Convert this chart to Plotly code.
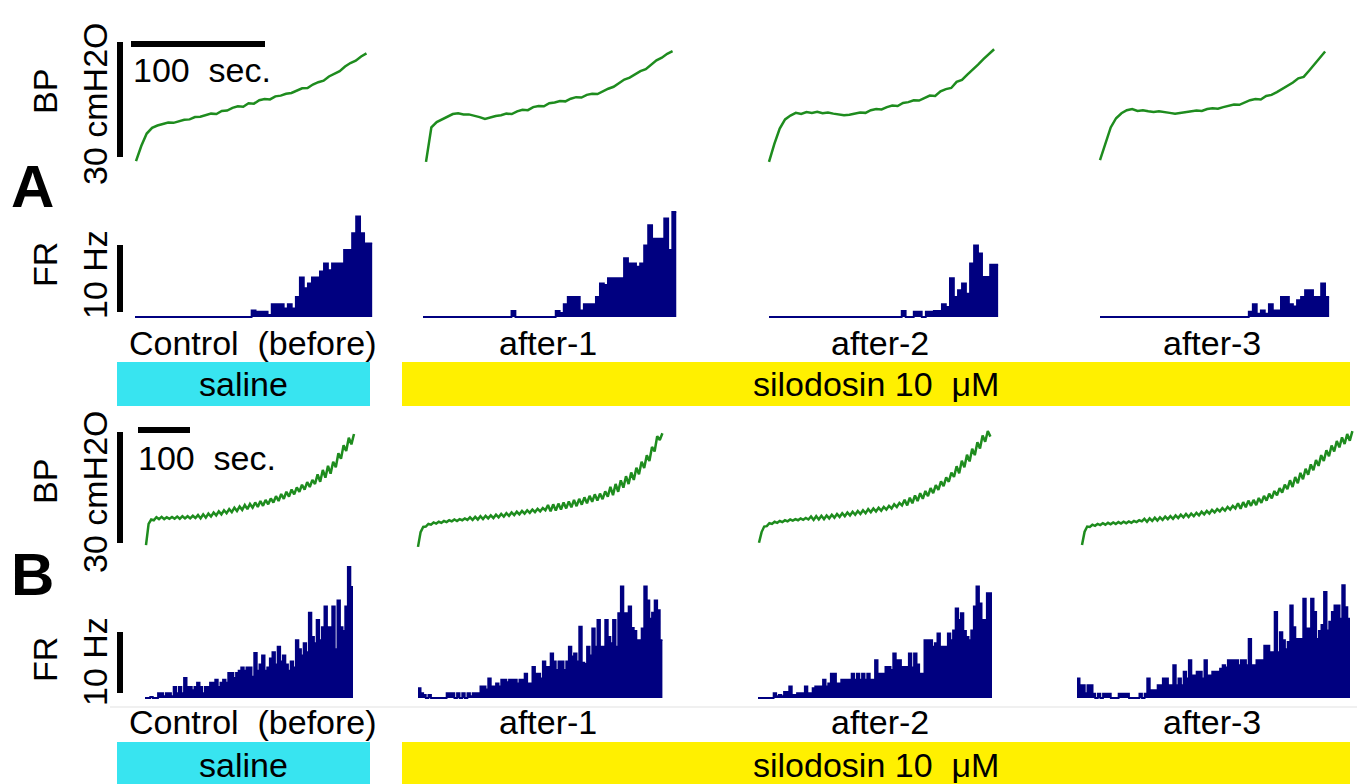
import plotly.graph_objects as go

W, H = 1357, 784

# ---------------- data ----------------
conditions = ["Control  (before)", "after-1", "after-2", "after-3"]
treatments = ["saline", "silodosin 10  μM"]
panel_labels = ["A", "B"]

SCALE_TIME_S = 100      # sec
SCALE_BP = 30           # cmH2O
SCALE_FR = 10           # Hz

# Panel A - bladder pressure (cmH2O above start), sampled every 4 s
A_BP_DT = 4
A_bp_control = [1.0, 5.0, 8.2, 9.7, 10.3, 10.7, 11.1, 11.0, 11.5, 11.8, 11.9, 12.5, 12.6, 13.0, 13.4,
                13.3, 14.1, 14.2, 14.9, 15.3, 15.2, 16.1, 16.0, 16.9, 17.2, 17.1, 17.9, 18.1, 18.6,
                18.8, 19.4, 20.0, 20.1, 21.0, 21.6, 22.0, 23.1, 23.8, 24.5, 25.7, 26.6, 27.2, 28.3, 29.1]
A_bp_after1 = [0.8, 9.8, 11.2, 11.9, 12.4, 13.3, 13.5, 13.2, 13.2, 12.9, 12.5, 12.0, 12.5, 12.8, 13.0,
               13.4, 13.3, 14.0, 14.4, 14.3, 15.1, 15.4, 15.3, 16.1, 16.3, 16.7, 16.6, 17.3, 17.7,
               17.6, 18.3, 18.6, 18.5, 19.3, 19.9, 20.4, 21.4, 22.3, 22.8, 23.7, 24.5, 25.0, 26.2,
               27.3, 28.0, 29.0, 29.7]
A_bp_after2 = [0.8, 5.5, 9.5, 11.9, 12.9, 13.6, 13.3, 13.8, 13.6, 13.9, 13.5, 13.7, 13.4, 13.2, 13.0,
               13.1, 13.4, 13.7, 13.6, 14.3, 14.6, 14.5, 15.1, 15.5, 15.4, 16.2, 16.4, 16.9, 16.8,
               17.5, 18.1, 18.0, 19.2, 19.8, 20.1, 21.7, 22.2, 23.6, 24.8, 26.2, 27.6, 29.0, 30.2]
A_bp_after3 = [1.3, 5.5, 9.8, 12.2, 13.5, 14.3, 14.6, 14.1, 14.3, 14.0, 13.8, 14.0, 13.7, 13.6, 13.4,
               13.6, 13.8, 14.0, 14.2, 14.1, 14.6, 14.8, 14.7, 15.1, 15.5, 15.8, 15.7, 16.4, 16.9,
               17.2, 17.1, 18.0, 18.3, 19.0, 19.8, 20.8, 21.5, 22.6, 23.0, 24.6, 26.3, 28.0, 29.6]

# Panel A - firing rate (Hz), 3 s bins
A_FR_BIN = 3
A_fr_control = [0, 0, 0, 0, 0, 0, 0, 0, 0, 0,
                0, 0, 0, 0, 0, 0, 0, 0, 0, 0,
                0, 0, 0, 0, 0, 0, 0, 0, 0,
                1.0, 0.8, 0.8, 0.8, 0.3, 1.9, 1.9, 1.9, 1.3, 1.9, 1.3, 3.0, 5.9, 4.3, 5.0,
                5.9, 5.9, 6.8, 8.0, 7.0, 8.0, 8.0, 8.0, 10.0, 10.0, 12.5, 15.0, 12.5, 11.0, 11.0]
A_fr_after1 = [0, 0, 0, 0, 0, 0, 0, 0, 0, 0,
               0, 0, 0, 0, 0, 0, 0, 0, 0, 0,
               0, 0, 0.9, 0, 0, 0, 0, 0, 0, 0,
               0, 0, 0,
               0.9, 0.6, 1.9, 3.0, 3.0, 3.0, 1.0, 1.9, 1.9, 1.9, 3.0, 5.0, 4.8, 5.8, 5.8,
               5.8, 5.8, 8.8, 8.0, 8.0, 7.5, 8.0, 10.7, 13.7, 11.7, 11.7, 11.7, 14.7, 10.0, 15.7]
A_fr_after2 = [0, 0, 0, 0, 0, 0, 0, 0, 0, 0,
               0, 0, 0, 0, 0, 0, 0, 0, 0, 0,
               0, 0, 0, 0, 0, 0, 0, 0, 0, 0,
               0, 0, 0,
               0.9, 0, 0, 0.8, 0.8, 0, 0.8, 0.8, 0.9, 0.9, 1.9, 1.5, 5.8, 3.0, 4.0, 5.0,
               3.5, 8.0, 10.7, 9.5, 6.0, 6.0, 7.8, 7.8]
A_fr_after3 = [0, 0, 0, 0, 0, 0, 0, 0, 0, 0,
               0, 0, 0, 0, 0, 0, 0, 0, 0, 0,
               0, 0, 0, 0, 0, 0, 0, 0, 0, 0,
               0, 0, 0, 0, 0, 0, 0,
               0.8, 1.9, 0.5, 1.0, 0.5, 1.9, 1.0, 1.0, 3.0, 3.0, 1.9, 1.6, 2.5, 3.0, 4.0,
               4.0, 3.0, 3.0, 5.0, 3.0]

# Panel B - bladder pressure (cmH2O), sampled every 5 s
B_BP_DT = 5
B_bp_control = [0.8, 6.5, 7.7, 7.5, 8.3, 7.8, 8.4, 7.8, 8.3, 7.9,
                8.4, 7.9, 8.5, 7.9, 8.6, 8.0, 8.6, 8.0, 8.7, 8.1,
                8.9, 8.0, 9.1, 8.2, 9.3, 8.5, 9.6, 8.8, 9.9, 9.1,
                10.2, 9.4, 10.5, 9.7, 10.9, 10.0, 11.2, 10.3, 11.6, 10.5,
                11.9, 10.9, 12.3, 11.1, 12.7, 11.4, 13.0, 11.8, 13.4, 12.3,
                14.0, 12.7, 14.6, 13.3, 15.2, 13.9, 15.8, 14.5, 16.4, 15.2,
                17.1, 15.8, 17.8, 16.5, 18.4, 17.3, 19.9, 17.9, 21.1, 19.0,
                22.2, 20.1, 23.3, 21.8, 25.6, 24.1, 27.8, 26.2, 29.8, 28.0,
                30.8]
B_bp_after1 = [0.3, 4.3, 5.7, 5.8, 6.5, 6.3, 6.9, 6.6, 7.1, 6.8,
               7.3, 7.0, 7.5, 7.2, 7.7, 7.3, 7.8, 7.5, 8.0, 7.6,
               8.3, 7.6, 8.4, 7.7, 8.6, 7.8, 8.7, 8.0, 8.8, 8.1,
               9.0, 8.3, 9.2, 8.5, 9.4, 8.7, 9.6, 8.9, 9.8, 9.1,
               10.0, 9.3, 10.2, 9.5, 10.4, 9.7, 10.6, 9.9, 10.8, 10.2,
               11.6, 9.9, 11.8, 10.1, 12.0, 10.4, 12.3, 10.7, 12.6, 11.0,
               13.0, 11.3, 13.3, 11.7, 13.7, 12.1, 14.1, 12.5, 14.5, 12.8,
               14.7, 13.2, 15.3, 13.9, 16.5, 14.3, 17.3, 15.2, 18.3, 16.3,
               19.4, 17.3, 20.4, 18.4, 21.7, 19.9, 23.3, 21.6, 25.1, 23.5,
               27.3, 26.1, 30.2, 29.2, 31.0]
B_bp_after2 = [1.4, 4.3, 5.8, 5.9, 6.7, 6.5, 7.1, 6.8, 7.3, 7.0,
               7.5, 7.2, 7.7, 7.4, 7.8, 7.5, 8.0, 7.6, 8.1, 7.7,
               8.5, 7.6, 8.6, 7.7, 8.7, 7.8, 8.8, 8.0, 9.0, 8.2,
               9.2, 8.4, 9.4, 8.6, 9.6, 8.8, 9.8, 9.0, 10.0, 9.2,
               10.2, 9.4, 10.5, 9.7, 10.7, 9.9, 10.9, 10.1, 11.1, 10.4,
               11.4, 10.7, 11.8, 11.1, 12.2, 11.5, 13.0, 11.5, 13.6, 12.1,
               14.2, 12.7, 14.8, 13.3, 15.4, 14.0, 16.2, 14.8, 17.0, 15.7,
               18.0, 16.7, 19.1, 17.9, 20.4, 19.2, 22.1, 20.2, 23.6, 21.8,
               25.2, 23.4, 26.8, 25.1, 28.6, 26.9, 30.4, 28.7, 31.6, 30.1]
B_bp_after3 = [0.8, 4.4, 5.8, 5.7, 6.3, 6.0, 6.5, 6.2, 6.7, 6.3,
               6.8, 6.4, 6.9, 6.5, 7.0, 6.6, 7.1, 6.7, 7.2, 6.8,
               7.3, 7.0, 7.5, 7.2, 7.9, 7.1, 8.0, 7.3, 8.2, 7.4,
               8.3, 7.6, 8.5, 7.8, 8.6, 7.9, 8.8, 8.1, 9.0, 8.3,
               9.2, 8.4, 9.3, 8.6, 9.5, 8.8, 9.8, 9.1, 10.0, 9.3,
               10.3, 9.6, 10.5, 9.9, 10.8, 10.1, 11.1, 10.4, 11.4, 10.7,
               12.1, 10.6, 12.4, 11.0, 12.8, 11.4, 13.0, 11.6, 13.5, 12.2,
               14.1, 12.8, 14.7, 13.4, 15.4, 14.2, 16.2, 15.0, 17.1, 15.9,
               18.3, 16.5, 19.2, 17.5, 20.3, 18.6, 21.4, 19.8, 22.6, 21.0,
               23.8, 22.2, 25.1, 23.5, 26.4, 24.8, 27.7, 26.1, 28.9, 27.2,
               29.9, 28.1, 30.8, 29.0, 31.6]

# Panel B - firing rate (Hz), 5 s bins
B_FR_BIN = 5
B_fr_control = [0, 0, 0.2, 0, 0, 0.8, 0.8, 0.3, 0.8, 0.8,
                0.3, 1.8, 0.8, 1.8, 0.8, 3.3, 1.8, 1.8, 1.3, 1.8,
                2.5, 1.8, 0.8, 1.8, 1.8, 2.5, 2.5, 3.0, 1.8, 2.5,
                3.0, 2.5, 4.1, 4.1, 3.3, 4.1, 4.5, 5.0, 4.5, 5.0,
                5.0, 3.5, 7.4, 4.5, 5.5, 7.0, 4.5, 5.0, 6.5, 7.5,
                5.5, 8.4, 6.0, 7.0, 5.5, 4.5, 6.0, 5.0, 9.5, 8.0,
                7.0, 9.0, 7.5, 14.0, 10.0, 9.0, 12.8, 9.5, 11.6, 15.0,
                11.6, 11.6, 15.0, 8.0, 16.0, 11.6, 11.0, 15.0, 21.5, 18.2]
B_fr_after1 = [1.6, 0.8, 0.5, 0, 0.5, 0, 0, 0, 0, 0,
               0, 0.8, 0.8, 0.8, 0, 0.8, 0, 0.8, 0, 0.8,
               0.3, 0.8, 0.8, 0.8, 1.9, 1.9, 1.4, 3.2, 1.9, 1.9,
               2.4, 1.9, 3.0, 3.0, 2.6, 3.0, 3.0, 3.0, 2.4, 3.0,
               3.0, 4.0, 2.4, 2.4, 5.1, 4.0, 4.0, 3.2, 6.0, 5.1,
               5.1, 7.3, 6.0, 4.6, 6.0, 6.0, 4.6, 6.0, 8.4, 6.8,
               7.3, 6.0, 11.7, 5.8, 5.6, 8.4, 7.0, 11.4, 8.4, 12.8,
               8.4, 8.4, 12.8, 10.0, 9.0, 12.8, 8.4, 13.9, 18.3, 13.9,
               13.9, 15.0, 11.5, 11.0, 9.5, 9.5, 11.4, 18.3, 16.0, 13.0,
               14.0, 16.0, 14.4, 9.5]
B_fr_after2 = [0, 0, 0, 0, 0, 0, 0.8, 0.3, 0.5, 0.3,
               1.0, 1.0, 1.9, 0.5, 0.5, 0.8, 0.8, 0.8, 1.9, 0.8,
               0.8, 1.6, 1.9, 1.9, 1.9, 3.0, 1.9, 2.4, 4.0, 4.0,
               2.4, 2.4, 3.0, 3.0, 3.0, 3.0, 4.0, 3.0, 4.0, 3.0,
               4.0, 3.0, 4.0, 3.0, 3.0, 6.2, 4.0, 4.0, 4.0, 5.1,
               5.1, 4.6, 7.3, 6.2, 6.2, 5.1, 5.1, 5.1, 7.3, 5.0,
               7.3, 5.5, 4.0, 4.0, 9.5, 9.5, 9.5, 8.4, 9.0, 10.6,
               8.4, 8.4, 8.4, 10.6, 9.5, 11.1, 14.7, 12.8, 13.9, 11.0,
               10.0, 9.5, 11.1, 15.0, 18.3, 15.5, 12.8, 12.8, 17.2, 17.2]
B_fr_after3 = [3.2, 2.1, 2.1, 0.8, 2.1, 2.1, 0.7, 0, 0.7, 0,
               0.7, 0.7, 0.7, 0, 0, 0, 0.7, 0.7, 0.7, 0.7,
               0, 0, 0, 0, 0.7, 0, 0.7, 3.2, 1.3, 1.3,
               1.3, 2.1, 2.1, 3.2, 3.2, 2.1, 2.1, 5.4, 2.1, 3.2,
               2.1, 4.3, 3.2, 6.2, 3.7, 3.7, 4.3, 4.3, 3.2, 6.2,
               3.7, 3.7, 4.3, 4.3, 4.3, 4.8, 5.4, 5.0, 6.2, 6.2,
               6.2, 6.2, 5.4, 6.2, 6.2, 5.4, 9.7, 5.4, 5.4, 6.2,
               6.2, 6.2, 8.6, 8.6, 7.5, 7.5, 14.1, 7.5, 10.8, 9.5,
               8.0, 9.2, 15.2, 11.6, 9.7, 9.7, 9.7, 16.3, 11.4, 11.4,
               16.3, 14.1, 9.7, 11.0, 12.0, 17.4, 11.1, 12.5, 14.1, 15.2,
               15.2, 13.0, 18.5, 14.9, 13.0]

# ---------------- layout geometry (pixels) ----------------
GREEN = "rgb(30,140,30)"
NAVY = "rgb(0,0,128)"
CYAN = "rgb(56,228,240)"
YELLOW = "rgb(255,240,0)"
FONT = "Liberation Sans, Arial, sans-serif"

rows = {
    "A_BP": dict(data=[A_bp_control, A_bp_after1, A_bp_after2, A_bp_after3], dt=A_BP_DT, kind="bp",
                 x0=[136, 426, 769, 1100], pps=1.34, top=30, bottom=170, y0=165, ppu=115 / 30),
    "A_FR": dict(data=[A_fr_control, A_fr_after1, A_fr_after2, A_fr_after3], dt=A_FR_BIN, kind="fr",
                 x0=[135, 423, 769, 1100], pps=1.34, top=195, bottom=322, y0=317, ppu=6.7),
    "B_BP": dict(data=[B_bp_control, B_bp_after1, B_bp_after2, B_bp_after3], dt=B_BP_DT, kind="bp",
                 x0=[146, 418, 759, 1082], pps=0.52, top=420, bottom=552, y0=548, ppu=3.7),
    "B_FR": dict(data=[B_fr_control, B_fr_after1, B_fr_after2, B_fr_after3], dt=B_FR_BIN, kind="fr",
                 x0=[145, 418, 758, 1077], pps=0.52, top=555, bottom=703, y0=698, ppu=6.1),
}

fig = go.Figure()
layout_axes = {}
axis_of = {}
n = 0
for key, r in rows.items():
    for c, vals in enumerate(r["data"]):
        n += 1
        left = max(0, r["x0"][c] - 40)
        right = min(W, r["x0"][c] + 300)
        xa = dict(domain=[left / W, right / W],
                  range=[(left - r["x0"][c]) / r["pps"], (right - r["x0"][c]) / r["pps"]],
                  visible=False, fixedrange=True)
        ya = dict(domain=[1 - r["bottom"] / H, 1 - r["top"] / H],
                  range=[(r["y0"] - r["bottom"]) / r["ppu"], (r["y0"] - r["top"]) / r["ppu"]],
                  visible=False, fixedrange=True)
        sfx = "" if n == 1 else str(n)
        layout_axes["xaxis" + sfx] = xa
        layout_axes["yaxis" + sfx] = ya
        axis_of[(key, c)] = ("x" + sfx, "y" + sfx)
        if r["kind"] == "bp":
            t = [i * r["dt"] for i in range(len(vals))]
            fig.add_trace(go.Scatter(x=t, y=vals, mode="lines", xaxis="x" + sfx, yaxis="y" + sfx,
                                     line=dict(color=GREEN, width=2.5), hoverinfo="skip",
                                     showlegend=False))
        else:
            edges = [i * r["dt"] for i in range(len(vals) + 1)]
            fig.add_trace(go.Scatter(x=edges, y=list(vals) + [vals[-1]], mode="lines",
                                     line_shape="hv", fill="tozeroy", fillcolor=NAVY,
                                     xaxis="x" + sfx, yaxis="y" + sfx,
                                     line=dict(color=NAVY, width=1.8), hoverinfo="skip",
                                     showlegend=False))

fig.update_layout(**layout_axes)

shapes = []


def bar_shapes(bp_key, fr_key, vbar_x, bp_bottom, tbar_y, tbar_left, fr_bottom):
    rb = rows[bp_key]
    xr, yr = axis_of[(bp_key, 0)]
    xv = (vbar_x - rb["x0"][0]) / rb["pps"]
    yb = (rb["y0"] - bp_bottom) / rb["ppu"]
    shapes.append(dict(type="line", xref=xr, yref=yr, x0=xv, x1=xv, y0=yb, y1=yb + SCALE_BP,
                       line=dict(color="black", width=6)))
    yt = (rb["y0"] - tbar_y) / rb["ppu"]
    xt = (tbar_left - rb["x0"][0]) / rb["pps"]
    shapes.append(dict(type="line", xref=xr, yref=yr, x0=xt, x1=xt + SCALE_TIME_S, y0=yt, y1=yt,
                       line=dict(color="black", width=6)))
    rf = rows[fr_key]
    xr2, yr2 = axis_of[(fr_key, 0)]
    xv2 = (vbar_x - rf["x0"][0]) / rf["pps"]
    yf = (rf["y0"] - fr_bottom) / rf["ppu"]
    shapes.append(dict(type="line", xref=xr2, yref=yr2, x0=xv2, x1=xv2, y0=yf, y1=yf + SCALE_FR,
                       line=dict(color="black", width=6)))


bar_shapes("A_BP", "A_FR", 120, 157, 44, 131, 312)
bar_shapes("B_BP", "B_FR", 120, 543, 430, 138, 693)

# treatment boxes
for (y0, y1) in [(362, 406), (742, 790)]:
    shapes.append(dict(type="rect", xref="paper", yref="paper", x0=117 / W, x1=370 / W,
                       y0=1 - y1 / H, y1=1 - y0 / H, fillcolor=CYAN, line=dict(width=0), layer="below"))
    shapes.append(dict(type="rect", xref="paper", yref="paper", x0=402 / W, x1=1350 / W,
                       y0=1 - y1 / H, y1=1 - y0 / H, fillcolor=YELLOW, line=dict(width=0), layer="below"))
# faint separator line
shapes.append(dict(type="line", xref="paper", yref="paper", x0=110 / W, x1=1, y0=1 - 707 / H,
                   y1=1 - 707 / H, line=dict(color="rgb(225,225,225)", width=1)))

ann = []


def text(x, y, s, size=34, angle=0, bold=False):
    ann.append(dict(x=x / W, y=1 - y / H, xref="paper", yref="paper", text=("<b>%s</b>" % s) if bold else s,
                    showarrow=False, xanchor="center", yanchor="middle", textangle=angle,
                    font=dict(family=FONT, size=size, color="black")))


cond_x = [253, 548, 880, 1212]
for p, (lab_y, cond_y, treat_y, bp_y, unit_bp_y, fr_y, unit_fr_y, sec_y) in enumerate(
        [(186, 343, 384, 92, 104, 265, 275, 70), (574, 722, 765, 482, 492, 660, 662, 458)]):
    text(32, lab_y, panel_labels[p], size=60, bold=True)
    text(45, bp_y, "BP", angle=-90)
    text(95, unit_bp_y, "%d cmH2O" % SCALE_BP, angle=-90)
    text(45, fr_y, "FR", angle=-90)
    text(95, unit_fr_y, "%d Hz" % SCALE_FR, angle=-90)
    for c in range(4):
        text(cond_x[c], cond_y, conditions[c])
    text(243, treat_y, treatments[0])
    text(876, treat_y, treatments[1])

ann.append(dict(x=131 / W, y=1 - 70 / H, xref="paper", yref="paper", text="%d  sec." % SCALE_TIME_S,
                showarrow=False, xanchor="left", yanchor="middle",
                font=dict(family=FONT, size=34, color="black")))
ann.append(dict(x=136 / W, y=1 - 458 / H, xref="paper", yref="paper", text="%d  sec." % SCALE_TIME_S,
                showarrow=False, xanchor="left", yanchor="middle",
                font=dict(family=FONT, size=34, color="black")))

fig.update_layout(width=W, height=H, margin=dict(l=0, r=0, t=0, b=0), paper_bgcolor="white",
                  plot_bgcolor="rgba(0,0,0,0)", shapes=shapes, annotations=ann, showlegend=False)

fig.write_html("out.html", config={"displayModeBar": False, "staticPlot": True},
               post_script="document.body.style.margin='0';document.body.style.overflow='hidden';")
